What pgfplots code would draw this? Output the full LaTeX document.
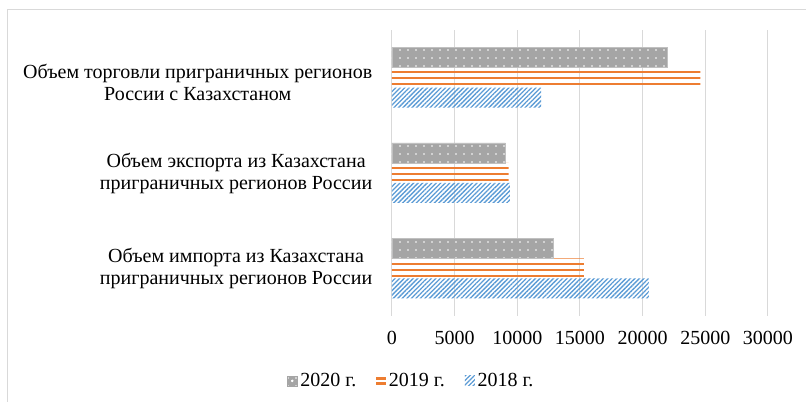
\documentclass[border=0pt]{standalone}
\usepackage{fontspec}
\setmainfont{Liberation Serif}
\usepackage{pgfplots}
\pgfplotsset{compat=1.18}
\usetikzlibrary{patterns.meta}
\definecolor{cgray}{HTML}{A5A5A5}
\definecolor{corange}{HTML}{ED7D31}
\definecolor{cblue}{HTML}{5B9BD5}
\definecolor{cgrid}{HTML}{D9D9D9}
\newcommand{\cfont}{\fontsize{15}{16.5}\selectfont}
\begin{document}
\begin{tikzpicture}
\begin{axis}[
  name=ax, at={(0,0)}, anchor=south west,
  scale only axis, width=282pt, height=214.5pt,
  xbar, bar width=15pt,
  xmin=0, xmax=30000, ymin=-0.5, ymax=2.5,
  xtick={0,5000,10000,15000,20000,25000,30000},
  scaled x ticks=false,
  ytick={0,1},
  yticklabels={{Объем импорта из Казахстана\\приграничных регионов России},
               {Объем экспорта из Казахстана\\приграничных регионов России}},
  extra y ticks={2},
  extra y tick labels={{Объем торговли приграничных регионов\\России с Казахстаном}},
  extra y tick style={yticklabel style={yshift=-3.5pt}},
  yticklabel style={align=center, font=\cfont, anchor=east, xshift=-7pt},
  xticklabel style={font=\cfont, yshift=-8pt},
  xmajorgrids, grid style={cgrid, line width=0.75pt},
  axis line style={draw=none}, major tick style={draw=none},
  /pgf/number format/assume math mode=true,
  /pgf/number format/1000 sep={},
  legend style={at={(0.052,-0.227)}, anchor=center, draw=none, font=\cfont,
    legend columns=-1,
    /tikz/every even column/.append style={column sep=13pt}},
  reverse legend,
]
\addplot[draw=none, bar shift=-15pt,
  pattern={Lines[angle=45, distance=2.4pt, line width=1pt]}, pattern color=cblue,
  legend image code/.code={\path[pattern={Lines[angle=45, distance=2.4pt, line width=1pt]}, pattern color=cblue] (0pt,-3.75pt) rectangle (7.5pt,3.75pt);}]
  coordinates {(20500,0) (9400,1) (11900,2)};
\addplot[draw=none, bar shift=0pt,
  pattern={Lines[angle=0, distance=4.5pt, line width=2pt]}, pattern color=corange,
  legend image code/.code={\fill[corange] (0pt,1.0pt) rectangle (7.5pt,3.0pt); \fill[corange] (0pt,-3.0pt) rectangle (7.5pt,-1.0pt);}]
  coordinates {(15300,0) (9300,1) (24600,2)};
\addplot[draw=cgray!70!white, line width=0.5pt, fill=cgray, bar shift=15pt,
  postaction={pattern={Dots[distance=6pt, radius=0.7pt]}, pattern color=white},
  legend image code/.code={\fill[cgray] (0pt,-3.75pt) rectangle (7.5pt,3.75pt); \fill[white] (3.75pt,0pt) circle (0.6pt);}]
  coordinates {(12900,0) (9050,1) (22000,2)};
\legend{2018 г., 2019 г., 2020 г.}
\end{axis}
\draw[cgrid, line width=0.75pt] (-288pt,229.5pt) rectangle (314.25pt,-68.25pt);
\pgfresetboundingbox
\path[use as bounding box] (-294pt,237pt) rectangle (310.5pt,-64.5pt);
\end{tikzpicture}
\end{document}
